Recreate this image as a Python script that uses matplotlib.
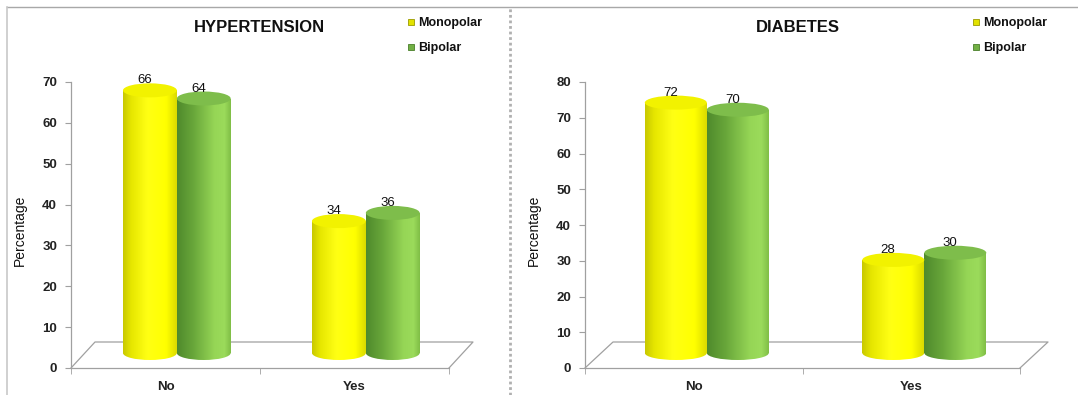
import numpy as np
import matplotlib.pyplot as plt
from matplotlib.colors import LinearSegmentedColormap
from matplotlib.patches import Ellipse, Rectangle
from matplotlib.lines import Line2D

plt.rcParams['font.family'] = ['Liberation Sans', 'DejaVu Sans']

# data
categories = ['No', 'Yes']
series = ['Monopolar', 'Bipolar']
htn_mono = [66, 34]
htn_bi = [64, 36]
dm_mono = [72, 28]
dm_bi = [70, 30]

W, H = 1078, 395
fig = plt.figure(figsize=(W / 100, H / 100), dpi=100)

# shading for the cylinders (left -> right across the bar)
yellow = LinearSegmentedColormap.from_list(
    'yel', [(0, '#C8C800'), (0.15, '#E6E600'), (0.45, '#FFFF14'),
            (0.8, '#FFFF00'), (1, '#DADA00')])
green = LinearSegmentedColormap.from_list(
    'grn', [(0, '#4F8A2C'), (0.3, '#68A63A'), (0.7, '#96D656'),
            (0.88, '#9BDB5B'), (1, '#80BE46')])
top_cols = {'Monopolar': '#F2F200', 'Bipolar': '#7EBD4B'}
cmaps = {'Monopolar': yellow, 'Bipolar': green}
legend_cols = {'Monopolar': ('#E2E200', '#9A9A00'), 'Bipolar': ('#72B044', '#4A7F2A')}


def cylinder(ax, xc, w, y0, y1, eh, cmap, topc):
    grad = cmap(np.linspace(0, 1, 256))[None, :, :]
    body = Rectangle((xc - w / 2, y0), w, y1 - y0, transform=ax.transData)
    im = ax.imshow(grad, extent=[xc - w / 2, xc + w / 2, y0, y1],
                   aspect='auto', zorder=3, interpolation='bilinear')
    im.set_clip_path(body)
    base = Ellipse((xc, y0), w, eh, transform=ax.transData)
    im2 = ax.imshow(grad, extent=[xc - w / 2, xc + w / 2, y0 - eh / 2, y0 + eh / 2],
                    aspect='auto', zorder=3, interpolation='bilinear')
    im2.set_clip_path(base)
    ax.add_patch(Ellipse((xc, y1), w, eh, fc=topc, ec='none', zorder=4))


def panel(rect, title, title_x, mono, bi, ymax, legend_x, depth_px):
    ax = fig.add_axes(rect)
    ax_h = rect[3] * H
    ax_w = rect[2] * W
    upx = ymax / ax_h          # data units per pixel (y)
    xpx = 2 / ax_w             # data units per pixel (x)

    eh = 14 * upx
    base = 15 * upx
    top_off = 8 * upx
    bw = 0.285
    shift = 0.06

    for i, cat in enumerate(categories):
        c = i + 0.5
        for name, vals, dx in (('Monopolar', mono, -bw / 2), ('Bipolar', bi, bw / 2)):
            xc = c + shift + dx
            yt = vals[i] + top_off
            cylinder(ax, xc, bw, base, yt, eh, cmaps[name], top_cols[name])
            ax.text(xc - 0.025, yt + 4 * upx, str(vals[i]), ha='center', va='bottom',
                    fontsize=9.5, color='#111111', zorder=5, clip_on=False)

    # 3d floor
    fdx = depth_px * xpx
    fdy = 26 * upx
    ax.plot([0, fdx, 2 + fdx, 2], [0, fdy, fdy, 0], color='#A0A0A0', lw=0.9,
            clip_on=False, zorder=1)

    ax.set_xlim(0, 2)
    ax.set_ylim(0, ymax)
    ax.set_yticks(np.arange(0, ymax + 1, 10))
    ax.set_xticks([0.5, 1.5])
    ax.set_xticklabels(categories, fontsize=9.5, fontweight='bold', color='#222222')
    ax.set_xticks([0, 1, 2], minor=True)
    ax.tick_params(axis='x', which='major', length=0, pad=9)
    ax.tick_params(axis='x', which='minor', length=4, color='#A0A0A0', direction='out')
    ax.tick_params(axis='y', length=4, color='#A0A0A0', labelsize=9.5, labelcolor='#222222', pad=6)
    for lab in ax.get_yticklabels():
        lab.set_fontweight('bold')
    for s in ('top', 'right'):
        ax.spines[s].set_visible(False)
    for s in ('left', 'bottom'):
        ax.spines[s].set_color('#A0A0A0')
        ax.spines[s].set_linewidth(0.9)

    ax.set_ylabel('Percentage', fontsize=10, color='#111111')
    ax.yaxis.set_label_coords(-44 / ax_w, 0.48)

    fig.text(title_x / W, 1 - 27 / H, title, ha='center', va='center',
             fontsize=12, fontweight='bold', color='#111111')

    handles = [Line2D([], [], marker='s', ls='none', ms=5,
                      mfc=legend_cols[n][0], mec=legend_cols[n][1], mew=0.6) for n in series]
    leg = ax.legend(handles, series, loc='upper left', frameon=False,
                    bbox_to_anchor=(legend_x / W, 1 - 17 / H), bbox_transform=fig.transFigure,
                    prop={'size': 9, 'weight': 'bold'}, handlelength=0.6,
                    handletextpad=0.3, labelspacing=1.05, borderpad=0, borderaxespad=0)
    for t in leg.get_texts():
        t.set_color('#111111')
    return ax


y_bot = (H - 368) / H
y_hgt = 286 / H
panel([71 / W, y_bot, 378 / W, y_hgt], 'HYPERTENSION', 259, htn_mono, htn_bi, 70, 407, 24)
panel([585 / W, y_bot, 435 / W, y_hgt], 'DIABETES', 798, dm_mono, dm_bi, 80, 972, 28)

# panel frames
fig.add_artist(Line2D([7 / W, 1], [1 - 7 / H, 1 - 7 / H], transform=fig.transFigure,
                      color='#A8A8A8', lw=1))
fig.add_artist(Line2D([7 / W, 7 / W], [0, 1 - 7 / H], transform=fig.transFigure,
                      color='#C8C8C8', lw=1.2))
fig.add_artist(Line2D([510 / W, 510 / W], [0, 1 - 7 / H], transform=fig.transFigure,
                      color='#B0B0B0', lw=2, ls=(0, (1, 1))))

fig.savefig('out.png', dpi=100)
